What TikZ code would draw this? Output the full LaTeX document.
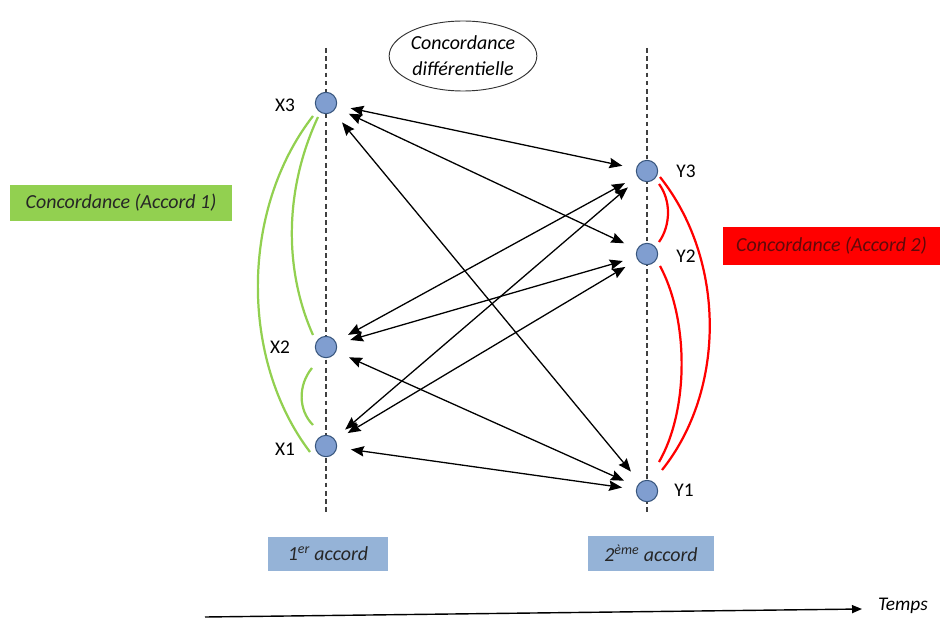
\documentclass[tikz,border=0pt]{standalone}
\usepackage{fontspec}
\setmainfont{Carlito}
\usetikzlibrary{calc}
\usetikzlibrary{arrows.meta}
\usetikzlibrary{shapes.geometric}

\definecolor{ptfill}{RGB}{128,158,208}
\definecolor{ptline}{RGB}{55,85,125}
\definecolor{accordgreen}{RGB}{146,208,80}
\definecolor{accordblue}{RGB}{149,179,215}
\definecolor{darkred}{RGB}{95,10,10}

\begin{document}
\begin{tikzpicture}[x=0.03cm,y=-0.03cm,
  pt/.style={circle,draw=ptline,fill=ptfill,line width=0.9pt,minimum size=0.64cm,inner sep=0pt},
  lbl/.style={font=\fontsize{16.5}{18}\selectfont},
  link/.style={{Stealth[length=3.9mm,width=3.1mm,inset=0.5mm]}-{Stealth[length=3.9mm,width=3.1mm,inset=0.5mm]},line width=1.1pt,shorten <=0.42cm,shorten >=0.42cm},
  box/.style={minimum height=1.05cm,inner sep=0pt,font=\fontsize{17}{19}\selectfont\itshape}]
\useasboundingbox (0,0) rectangle (940,619);
\coordinate (xtop) at (326,48);
\coordinate (xbot) at (326,515);
\coordinate (ytop) at (647,48);
\coordinate (ybot) at (647,512);
   \draw[style=dashed, color=black!75, line width=0.9pt, dash pattern=on 4pt off 3pt] (xtop) -- (xbot);
   \draw[style=dashed, color=black!75, line width=0.9pt, dash pattern=on 4pt off 3pt] (ytop) -- (ybot);

\node[pt] (X3) at (326,103) {};
\node[pt] (X2) at (326,347) {};
\node[pt] (X1) at (326,446) {};
\node[pt] (Y3) at (647,171) {};
\node[pt] (Y2) at (647,254) {};
\node[pt] (Y1) at (647,491) {};
\node[lbl] (lX3) at (285,105) {X3};
\node[lbl] (lX2) at (280,347) {X2};
\node[lbl] (lX1) at (285,449) {X1};
\node[lbl] (lY3) at (686,171) {Y3};
\node[lbl] (lY2) at (686,256) {Y2};
\node[lbl] (lY1) at (684,490) {Y1};

   % liens entre les deux accords
   \foreach \a in {X1,X2,X3}
     \foreach \b in {Y1,Y2,Y3}
       \draw[link] (\a) -- (\b);

   % concordance accord 1
   \draw[color=accordgreen, line width=1.9pt] ($(X3)+(-13,13)$) .. controls (240,210) and (240,360) .. ($(X1)+(-16,6)$);
   \draw[color=accordgreen, line width=1.9pt] ($(X3)+(-8,14)$) .. controls (284,190) and (284,270) .. ($(X2)+(-13,-12)$);
   \draw[color=accordgreen, line width=1.9pt] ($(X2)+(-14,21)$) .. controls (298,385) and (298,410) .. ($(X1)+(-13,-21)$);
   % concordance accord 2
   \draw[color=red, line width=1.9pt] ($(Y3)+(13,6)$) .. controls (726,260) and (726,390) .. ($(Y1)+(15,-21)$);
   \draw[color=red, line width=1.9pt] ($(Y3)+(12,13)$) .. controls (671,200) and (671,225) .. ($(Y2)+(12,-12)$);
   \draw[color=red, line width=1.9pt] ($(Y2)+(13,12)$) .. controls (689,320) and (689,410) .. ($(Y1)+(12,-29)$);

\node[ellipse, draw=black!80, line width=0.8pt, minimum width=4.4cm, minimum height=2.1cm, inner sep=0pt, align=center, font=\fontsize{17}{22}\selectfont\itshape] (diff) at (463,56) {Concordance\\diff\'erentielle};
\node[box, fill=accordgreen, minimum width=6.66cm, text=black!85] (acc1) at (121,203) {Concordance (Accord 1)};
\node[box, fill=red, minimum width=6.51cm, minimum height=1.14cm, text=darkred] (acc2) at (831.5,246) {Concordance (Accord 2)};
\node[box, fill=accordblue, minimum width=3.6cm, minimum height=1.02cm, text=black!85] (first) at (328,554) {1\textsuperscript{er} accord};
\node[box, fill=accordblue, minimum width=3.78cm, text=black!85] (second) at (651,553.5) {2\textsuperscript{ème} accord};

\coordinate (t0) at (205,617);
\node[font=\fontsize{16.5}{18}\selectfont\itshape] (temps) at (903,606) {Temps};
   \draw[-{Triangle[length=3mm,width=2.4mm]}, line width=1.2pt] (t0) -- ($(temps.west)+(-12,3)$);
\end{tikzpicture}
\end{document}
